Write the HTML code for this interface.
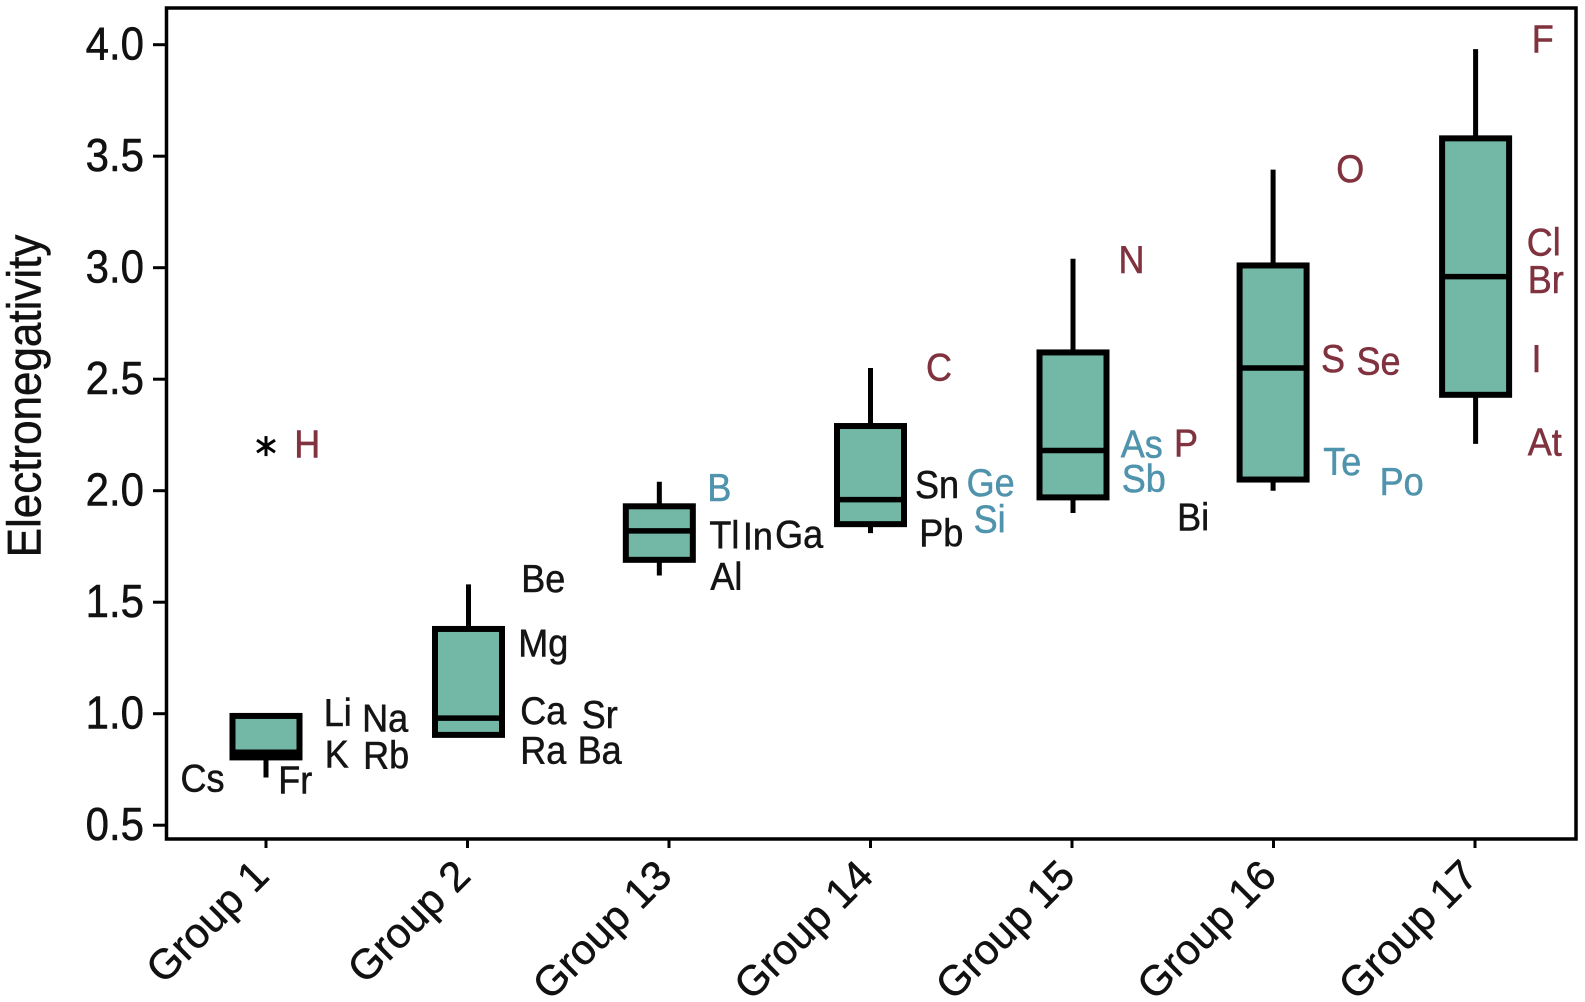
<!DOCTYPE html>
<html lang="en">
<head>
<meta charset="utf-8">
<title>Electronegativity by Group</title>
<style>
html,body{margin:0;padding:0;background:#fff;width:1585px;height:1002px;overflow:hidden}
svg{display:block}
text{font-family:"Liberation Sans",sans-serif;stroke-width:.5px}
</style>
</head>
<body>
<svg id="chart" xmlns="http://www.w3.org/2000/svg" width="1585" height="1002" viewBox="0 0 1585 1002">
  <rect x="0" y="0" width="1585" height="1002" fill="#fff"/>
  <text transform="translate(40.5 396) rotate(-90) scale(1 1.08)" text-anchor="middle" font-size="44" fill="#111" stroke="#111">Electronegativity</text>
</svg>
<script>
const categories = ['Group 1','Group 2','Group 13','Group 14','Group 15','Group 16','Group 17'];
const q1Values = [0.804,0.905,1.69,1.85,1.97,2.05,2.43];
const medianValues = [0.827,0.98,1.82,1.96,2.18,2.55,2.96];
const q3Values = [0.99,1.38,1.93,2.29,2.62,3.01,3.58];
const whiskerLow = [0.714,0.905,1.62,1.81,1.90,2.00,2.21];
const whiskerHigh = [0.99,1.58,2.04,2.55,3.04,3.44,3.98];
const boxCategoryOffset = [0,.005,-.048,0,.005,-.002,.003];
const yTickValues = [0.5,1.0,1.5,2.0,2.5,3.0,3.5,4.0];
const yTickLabels = ['0.5','1.0','1.5','2.0','2.5','3.0','3.5','4.0'];
const outlierGroups = [0];
const outlierValues = [2.2];
const elementNames = ['H','Li','Na','K','Rb','Cs','Fr','Be','Mg','Ca','Sr','Ra','Ba','B','Tl','In','Ga','Al','C','Sn','Ge','Si','Pb','N','As','P','Sb','Bi','O','S','Se','Te','Po','F','Cl','Br','I','At'];
const elementGroups = [0,0,0,0,0,0,0,1,1,1,1,1,1,2,2,2,2,2,3,3,3,3,3,4,4,4,4,4,5,5,5,5,5,6,6,6,6,6];
const elementJitter = [.205,.356,.591,.351,.596,-.315,.145,.376,.376,.376,.656,.376,.656,.25,.275,.441,.646,.285,.34,.33,.596,.591,.351,.295,.346,.566,.356,.601,.381,.295,.521,.341,.636,.336,.341,.351,.305,.346];
const elementValues = [2.202,.998,.975,.812,.808,.704,.695,1.6,1.31,1.007,.989,.831,.831,2.008,1.795,1.79,1.799,1.609,2.547,2.021,2.03,1.867,1.804,3.031,2.202,2.207,2.049,1.876,3.439,2.587,2.574,2.125,2.035,4.018,3.108,2.94,2.587,2.211];
const elementKinds = ['n','m','m','m','m','m','m','m','m','m','m','m','m','s','m','m','m','m','n','m','s','s','m','n','s','n','s','m','n','n','n','s','s','n','n','n','n','n'];

const svg = document.getElementById('chart');
const NS = 'http://www.w3.org/2000/svg';
const xScale = g => 266 + g * 201.5;
const yScale = v => 825.2 - (v - 0.5) * 223;
const kindColors = {m:'#141414', s:'#4f93ad', n:'#80323f'};
const boxWidth = 67;

function make(tag, attrs, parent) {
  const e = document.createElementNS(NS, tag);
  for (const k in attrs) e.setAttribute(k, attrs[k]);
  (parent || svg).appendChild(e);
  return e;
}

const frame = make('rect', {x:166.5, y:8, width:1409.5, height:831, fill:'none', stroke:'#000', 'stroke-width':3.5});



yTickValues.forEach((v, i) => {
  const y = yScale(v);
  const tick = make('line', {x1:153, x2:166, y1:y, y2:y, stroke:'#000', 'stroke-width':3});
  
  
  const label = make('text', {transform:'translate(144 ' + (y + 15) + ') scale(1 1.1)', 'text-anchor':'end', 'font-size':42, fill:'#111', stroke:'#111'});
  label.textContent = yTickLabels[i];
  
  
});

categories.forEach((c, i) => {
  const x = xScale(i);
  const bx = xScale(i + boxCategoryOffset[i]);
  const tick = make('line', {x1:x, x2:x, y1:839, y2:848, stroke:'#000', 'stroke-width':3});
  
  
  const label = make('text', {transform:'translate(' + (x + 5) + ' 878) rotate(-45)', 'text-anchor':'end', 'font-size':42, fill:'#111', stroke:'#111'});
  label.textContent = c;
  
  

  const whisker = make('line', {x1:bx, x2:bx, y1:yScale(whiskerHigh[i]), y2:yScale(whiskerLow[i]), stroke:'#000', 'stroke-width':5});
  
  

  const top = yScale(q3Values[i]);
  const bottom = yScale(q1Values[i]);
  const box = make('rect', {x:bx - boxWidth / 2, y:top, width:boxWidth, height:bottom - top, fill:'#73b8a7', stroke:'#000', 'stroke-width':6});
  
  

  const my = yScale(medianValues[i]);
  const median = make('line', {x1:bx - boxWidth / 2, x2:bx + boxWidth / 2, y1:my, y2:my, stroke:'#000', 'stroke-width':5.5});
  
  
});

outlierValues.forEach((v, i) => {
  const x = xScale(outlierGroups[i]);
  const y = yScale(v);
  const g = make('g', {stroke:'#000', 'stroke-width':3});
  
  
  make('line', {x1:x, x2:x, y1:y - 10, y2:y + 10}, g);
  make('line', {x1:x - 9, x2:x + 9, y1:y - 6, y2:y + 6}, g);
  make('line', {x1:x - 9, x2:x + 9, y1:y + 6, y2:y - 6}, g);
});

elementNames.forEach((name, i) => {
  const x = xScale(elementGroups[i] + elementJitter[i]);
  const y = yScale(elementValues[i]);
  const color = kindColors[elementKinds[i]];
  const label = make('text', {transform:'translate(' + x + ' ' + (y + 12) + ') scale(1 1.08)', 'text-anchor':'middle', 'font-size':36, fill:color, stroke:color});
  label.textContent = name;
  
  
});
</script>
</body>
</html>
